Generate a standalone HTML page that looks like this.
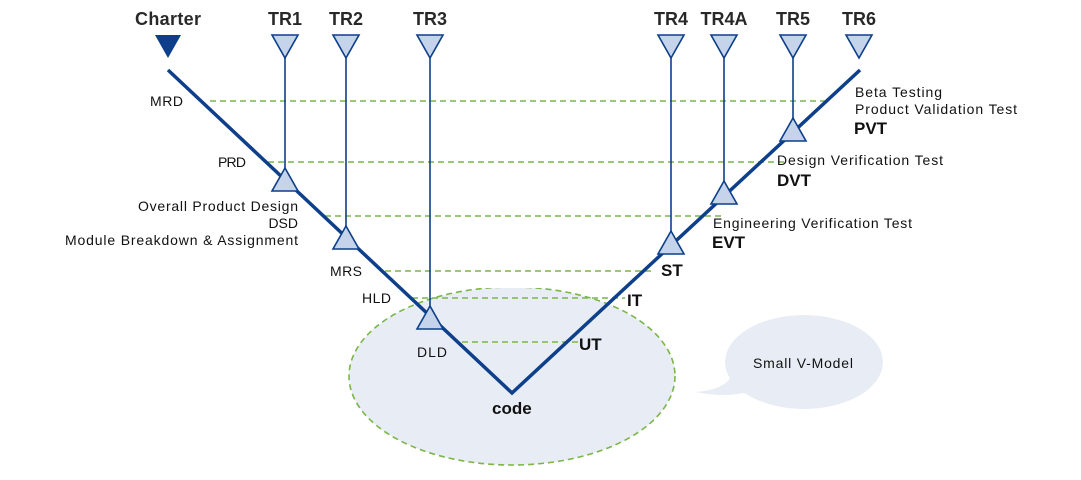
<!DOCTYPE html>
<html><head><style>
body{margin:0;background:#fff}
svg text{font-family:"Liberation Sans",sans-serif;fill:#111}
</style></head><body>
<svg width="1081" height="475" viewBox="0 0 1081 475">
<defs><clipPath id="c"><rect x="0" y="288" width="1081" height="200"/></clipPath></defs>
<ellipse cx="512" cy="376" rx="163" ry="89" fill="#e8edf5" clip-path="url(#c)"/>
<ellipse cx="512" cy="376" rx="163" ry="89" fill="none" stroke="#7ab648" stroke-width="1.6" stroke-dasharray="6,4" clip-path="url(#c)"/>
<ellipse cx="804" cy="362" rx="79" ry="47" fill="#e8edf5"/>
<path d="M732 375 Q725 390 695 392 Q725 398 748 392 Z" fill="#e8edf5"/>
<g stroke="#7ab648" stroke-width="1.5" stroke-dasharray="6,4">
<line x1="210" y1="101" x2="830" y2="101"/>
<line x1="268" y1="162" x2="785" y2="162"/>
<line x1="325" y1="216" x2="722" y2="216"/>
<line x1="385" y1="271" x2="655" y2="271"/>
<line x1="412" y1="298" x2="625" y2="298"/>
<line x1="462" y1="342" x2="578" y2="342"/>
</g>
<g stroke="#0d3f8a" stroke-width="1.6">
<line x1="285" y1="58" x2="285" y2="175"/>
<line x1="346" y1="58" x2="346" y2="232"/>
<line x1="430" y1="58" x2="430" y2="312"/>
<line x1="671" y1="58" x2="671" y2="237"/>
<line x1="724" y1="58" x2="724" y2="187"/>
<line x1="793" y1="58" x2="793" y2="124"/>
</g>
<polyline points="168,70 512,393 860,70" fill="none" stroke="#0d3f8a" stroke-width="3.5"/>
<polygon points="155,35 181,35 168,58" fill="#0d3f8a"/>
<g fill="#c5d4ea" stroke="#0d3f8a" stroke-width="1.6">
<polygon points="272,35 298,35 285,58"/>
<polygon points="333,35 359,35 346,58"/>
<polygon points="417,35 443,35 430,58"/>
<polygon points="658,35 684,35 671,58"/>
<polygon points="711,35 737,35 724,58"/>
<polygon points="780,35 806,35 793,58"/>
<polygon points="846,35 872,35 859,58"/>
<polygon points="285,168 272,191 298,191"/>
<polygon points="346,226 333,249 359,249"/>
<polygon points="430,306 417,329 443,329"/>
<polygon points="671,231 658,254 684,254"/>
<polygon points="724,181 711,204 737,204"/>
<polygon points="793,118 780,141 806,141"/>
</g>
<g font-size="18" text-anchor="middle" font-weight="bold" fill-opacity="0.9">
<text x="168" y="25" textLength="66">Charter</text><text x="285" y="25">TR1</text><text x="346" y="25">TR2</text><text x="430" y="25">TR3</text>
<text x="671" y="25">TR4</text><text x="724" y="25">TR4A</text><text x="793" y="25">TR5</text><text x="859" y="25">TR6</text>
</g>
<g font-size="14">
<text x="150" y="106" textLength="33">MRD</text><text x="218" y="167" textLength="28">PRD</text>
<text x="138" y="211" textLength="160">Overall Product Design</text>
<text x="298" y="228" text-anchor="end">DSD</text>
<text x="65" y="245" textLength="233">Module Breakdown &amp; Assignment</text>
<text x="330" y="276" textLength="32">MRS</text><text x="362" y="303" textLength="29">HLD</text><text x="417" y="357" textLength="30">DLD</text>
<text x="855" y="97" textLength="87">Beta Testing</text><text x="855" y="114" textLength="162">Product Validation Test</text>
<text x="777" y="165" textLength="166">Design Verification Test</text>
<text x="713" y="228" textLength="199">Engineering Verification Test</text>
<text x="753" y="368" textLength="100">Small V-Model</text>
</g>
<g font-size="17" font-weight="bold">
<text x="854" y="134">PVT</text><text x="777" y="186">DVT</text><text x="712" y="248">EVT</text>
<text x="661" y="276">ST</text><text x="627" y="306">IT</text><text x="579" y="350">UT</text>
<text x="492" y="414">code</text>
</g>
</svg>
</body></html>
